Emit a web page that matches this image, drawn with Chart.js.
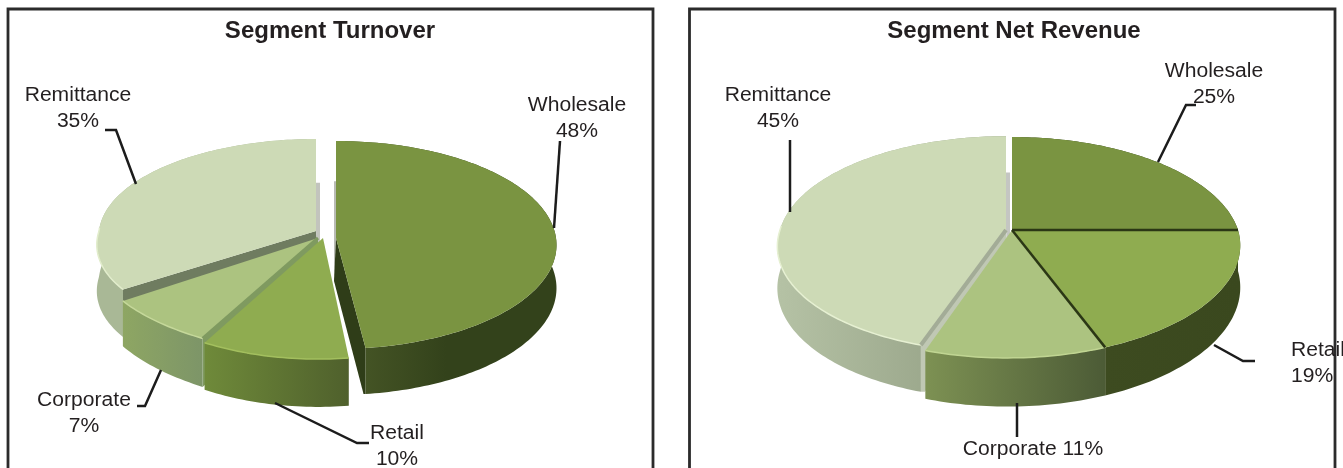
<!DOCTYPE html>
<html lang="en">
<head>
    <meta charset="UTF-8">
    <title>Segment Turnover and Net Revenue</title>
    <script src="https://cdn.jsdelivr.net/npm/chart.js"></script>
    <style>
        html, body { margin: 0; padding: 0; background: #fff; overflow: hidden; }
        canvas { position: absolute; top: 0; }
    </style>
</head>
<body>
    <canvas id="turnoverChart" width="660" height="468" style="left:0"></canvas>
    <canvas id="revenueChart" width="658" height="468" style="left:685px"></canvas>

    <script>
        // Segment shares, in percent
        const categories = ['Wholesale', 'Retail', 'Corporate', 'Remittance'];
        const turnoverValues = [48, 10, 7, 35];
        const netRevenueValues = [25, 19, 11, 45];

        const topColors = ['#7a9441', '#8fac50', '#acc380', '#cddab6'];

        // Look of each pie: one entry per category. Apex and radii are in page pixels,
        // p is the perspective strength, sk a sideways shear of the front half,
        // d the wall height and dx the sideways shift of the cut faces.
        const turnoverLook = {
            originX: 0,
            frame: [8, 9, 653],
            slices: [
                { ax: 336, ay: 238, a: 220, b: 103.5, p: 0.067, sk: 0, d: 43, dx: -2,
                  wall: ['#4a5a28', '#33421b', '#33421b'], startFace: '#b9bbb5', endFace: '#2f3d18' },
                { ax: 323, ay: 238, a: 217, b: 109, p: 0.1, sk: -4, d: 43, dx: 0,
                  wall: ['#6f8a3a', '#4f602c'], rim: '#a3bf5e' },
                { ax: 318, ay: 238, a: 223, b: 94.5, p: 0.2, sk: 14, d: 40, dx: 0,
                  wall: ['#8ea663', '#7d9568'], rim: '#c5d89a', startFace: '#7f9a60', startLine: ['#7f9a60', 3] },
                { ax: 316, ay: 231, a: 217, b: 96.6, p: 0.05, sk: -20, d: 46, dx: 4,
                  wall: ['#a9b896', '#a9b896'], startFace: '#6f7c60', endFace: '#c2c4bd', rim: '#e2edcc' }
            ],
            callouts: [
                { lines: v => [categories[0], v[0] + '%'], x: 577, y: 105, path: [[560, 141], [554, 228]] },
                { lines: v => [categories[1], v[1] + '%'], x: 397, y: 433, path: [[275, 403], [357, 443], [369, 443]] },
                { lines: v => [categories[2], v[2] + '%'], x: 84, y: 400, path: [[161, 370], [145, 406], [137, 406]] },
                { lines: v => [categories[3], v[3] + '%'], x: 78, y: 95, path: [[105, 130], [116, 130], [136, 184]] }
            ]
        };

        const netRevenueLook = {
            originX: 685,
            frame: [689.5, 9, 1335],
            slices: [
                { ax: 1012, ay: 230, a: 226, b: 107.7, p: 0.158, sk: 0, d: 41, dx: 0,
                  wall: ['#33411b', '#33411b'] },
                { ax: 1012, ay: 230, a: 226, b: 107.7, p: 0.158, sk: -4, d: 41, dx: 0,
                  wall: ['#3d4b20', '#3a481e'], startLine: ['#2b3715', 2.5] },
                { ax: 1012, ay: 230, a: 226, b: 107.7, p: 0.158, sk: -4, d: 41, dx: 0,
                  wall: ['#7d9153', '#4c5b36'], rim: '#c0d592', startLine: ['#2b3715', 2.5] },
                { ax: 1006, ay: 230, a: 226, b: 106, p: 0.13, sk: -5, d: 41, dx: 4,
                  wall: ['#b5c2a5', '#8f9b80'], startFace: '#c0c8b4', endFace: '#c4c6c2',
                  startLine: ['#a3ac97', 4], rim: '#e6f0d2' }
            ],
            callouts: [
                { lines: v => [categories[0], v[0] + '%'], x: 1214, y: 71, path: [[1196, 105], [1186, 105], [1158, 162]] },
                { lines: v => [categories[1], v[1] + '%'], x: 1291, y: 350, left: true, path: [[1214, 345], [1243, 361], [1255, 361]] },
                { lines: v => [categories[2] + ' ' + v[2] + '%'], x: 1033, y: 449, path: [[1017, 403], [1017, 437]] },
                { lines: v => [categories[3], v[3] + '%'], x: 778, y: 95, path: [[790, 140], [790, 212]] }
            ]
        };

        // Project an angle on the pie (clockwise from the top) onto the page
        function project(s, theta, lower) {
            const u = Math.sin(theta);
            const v = -Math.cos(theta);
            const w = 1 - s.p * v;
            return {
                x: s.ax + (s.a * u + s.sk * Math.max(v, 0)) / w,
                y: s.ay + s.b * v / w + (lower ? s.d / w : 0)
            };
        }

        function rimPoints(s, start, end, lower) {
            const pts = [];
            const steps = Math.max(2, Math.ceil((end - start) / 0.02));
            for (let i = 0; i <= steps; i++) {
                pts.push(project(s, start + (end - start) * i / steps, lower));
            }
            return pts;
        }

        function fillPolygon(ctx, pts, fill) {
            ctx.beginPath();
            pts.forEach((p, i) => i ? ctx.lineTo(p.x, p.y) : ctx.moveTo(p.x, p.y));
            ctx.closePath();
            ctx.fillStyle = fill;
            ctx.fill();
        }

        // Cut side of a slice, from the apex out to the rim at this angle
        function drawFace(ctx, s, theta, color) {
            const low = project(s, theta, true);
            fillPolygon(ctx, [
                { x: s.ax, y: s.ay },
                project(s, theta, false),
                low,
                { x: low.x + s.dx, y: low.y },
                { x: s.ax + s.dx, y: s.ay + s.d }
            ], color);
        }

        function drawEdge(ctx, s, theta, line) {
            const rim = project(s, theta, false);
            ctx.beginPath();
            ctx.moveTo(s.ax, s.ay);
            ctx.lineTo(rim.x, rim.y);
            ctx.strokeStyle = line[0];
            ctx.lineWidth = line[1];
            ctx.stroke();
        }

        function drawSlice(ctx, arc, s) {
            // Chart.js measures angles from 3 o'clock
            const start = arc.startAngle + Math.PI / 2;
            const end = arc.endAngle + Math.PI / 2;

            if (s.startFace) drawFace(ctx, s, start, s.startFace);
            if (s.endFace) drawFace(ctx, s, end, s.endFace);

            // Outer wall with its left-to-right shading
            const upper = rimPoints(s, start, end, false);
            const lowerPts = rimPoints(s, start, end, true);
            const xs = upper.map(p => p.x);
            const grad = ctx.createLinearGradient(Math.min(...xs), 0, Math.max(...xs), 0);
            s.wall.forEach((c, i) => grad.addColorStop(i / (s.wall.length - 1), c));
            fillPolygon(ctx, upper.concat(lowerPts.reverse()), grad);

            // Top face
            fillPolygon(ctx, [{ x: s.ax, y: s.ay }].concat(upper), arc.options.backgroundColor);

            // Thin highlight along the front edge
            if (s.rim) {
                const front = [];
                const steps = upper.length - 1;
                upper.forEach((p, i) => {
                    if (Math.cos(start + (end - start) * i / steps) < 0.05) front.push(p);
                });
                ctx.beginPath();
                front.forEach((p, i) => i ? ctx.lineTo(p.x, p.y) : ctx.moveTo(p.x, p.y));
                ctx.strokeStyle = s.rim;
                ctx.lineWidth = 1.5;
                ctx.stroke();
            }

            if (s.startLine) drawEdge(ctx, s, start, s.startLine);
            if (s.endLine) drawEdge(ctx, s, end, s.endLine);
        }

        function drawCallout(ctx, item, values) {
            ctx.beginPath();
            item.path.forEach((p, i) => i ? ctx.lineTo(p[0], p[1]) : ctx.moveTo(p[0], p[1]));
            ctx.strokeStyle = '#1c1c1c';
            ctx.lineWidth = 2.5;
            ctx.stroke();

            // Arial-like text, slightly widened
            ctx.font = '20px "Liberation Sans", Arial, sans-serif';
            ctx.fillStyle = '#231f20';
            ctx.textBaseline = 'middle';
            ctx.textAlign = item.left ? 'left' : 'center';
            item.lines(values).forEach((text, i) => {
                ctx.save();
                ctx.translate(item.x, item.y + i * 26);
                ctx.scale(1.055, 1);
                ctx.fillText(text, 0, 0);
                ctx.restore();
            });
        }

        const pie3d = {
            id: 'pie3d',
            beforeDraw(chart, args, opts) {
                const ctx = chart.ctx;
                const f = opts.look.frame;
                ctx.save();
                ctx.translate(-opts.look.originX, 0);
                ctx.beginPath();
                ctx.moveTo(f[0], 468);
                ctx.lineTo(f[0], f[1]);
                ctx.lineTo(f[2], f[1]);
                ctx.lineTo(f[2], 468);
                ctx.strokeStyle = '#2b2b2b';
                ctx.lineWidth = 2.8;
                ctx.stroke();
                ctx.restore();
            },
            // The slices get their angles from Chart.js and are painted here, back to front
            beforeDatasetsDraw(chart, args, opts) {
                const ctx = chart.ctx;
                const look = opts.look;
                const arcs = chart.getDatasetMeta(0).data;
                const order = arcs.map((arc, i) => i).sort((i, j) => {
                    const mid = k => (arcs[k].startAngle + arcs[k].endAngle) / 2 + Math.PI / 2;
                    return Math.cos(mid(j)) - Math.cos(mid(i));
                });
                ctx.save();
                ctx.translate(-look.originX, 0);
                order.forEach(i => drawSlice(ctx, arcs[i], look.slices[i]));
                look.callouts.forEach(item => drawCallout(ctx, item, chart.data.datasets[0].data));
                ctx.restore();
                return false;
            }
        };

        function createPie(id, title, values, look) {
            return new Chart(document.getElementById(id), {
                type: 'pie',
                data: {
                    labels: categories,
                    datasets: [{ data: values, backgroundColor: topColors, borderWidth: 0 }]
                },
                options: {
                    responsive: false,
                    animation: false,
                    plugins: {
                        legend: { display: false },
                        tooltip: { enabled: false },
                        title: {
                            display: true,
                            text: title,
                            color: '#231f20',
                            font: { family: '"Liberation Sans", Arial, sans-serif', size: 24, weight: 'bold' },
                            padding: { top: 17, bottom: 10 }
                        },
                        pie3d: { look: look }
                    }
                },
                plugins: [pie3d]
            });
        }

        createPie('turnoverChart', 'Segment Turnover', turnoverValues, turnoverLook);
        createPie('revenueChart', 'Segment Net Revenue', netRevenueValues, netRevenueLook);
    </script>
</body>
</html>
